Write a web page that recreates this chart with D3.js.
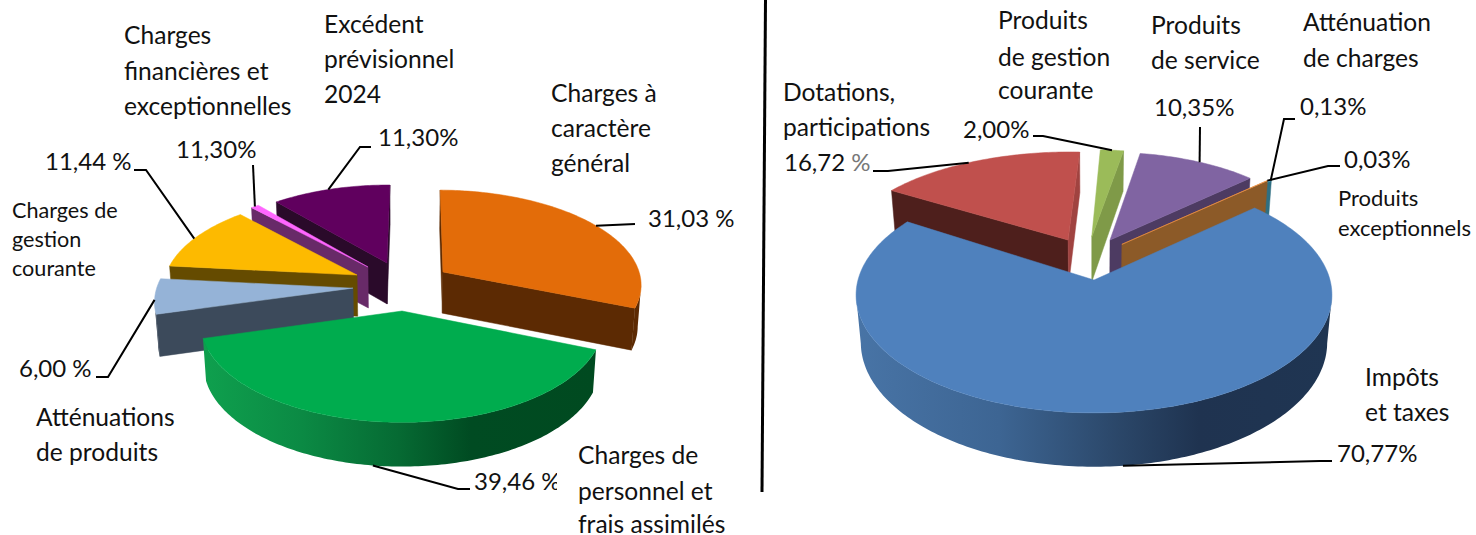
<!DOCTYPE html>
<html><head><meta charset="utf-8">
<script src="https://cdn.jsdelivr.net/npm/d3@7/dist/d3.min.js"></script>
<style>html,body{margin:0;padding:0;background:#fff;overflow:hidden}svg{display:block}text{font-family:Lato,"Open Sans",sans-serif;fill:#111}</style>
</head><body><svg id="c" width="1476" height="535"></svg>
<script>
// ---- data ----
const chargesCategories = ["Charges à caractère général","Charges de personnel et frais assimilés","Atténuations de produits","Charges de gestion courante","Charges financières et exceptionnelles","Excédent prévisionnel 2024"];
const chargesValues = [31.03,39.46,6.00,11.44,0.77,11.30];
const chargesLabels = ["31,03 %","39,46 %","6,00 %","11,44 %","11,30%","11,30%"];
const produitsCategories = ["Impôts et taxes","Dotations, participations","Produits de gestion courante","Produits de service","Atténuation de charges","Produits exceptionnels"];
const produitsValues = [70.77,16.72,2.00,10.35,0.13,0.03];
const produitsLabels = ["70,77%","16,72 %","2,00%","10,35%","0,13%","0,03%"];

// ---- layout (projection, explosion, styling) ----
const pieLeft = {cx:402,cy:311,R:200,Q:98,p:.12,q:.015,D:42,dp:.05,start:0.5,
  slices:[
   {ex:.215,ey:.418,r:1.03,top:"#e36c09",wall:"#5c2a03",side:"#5c2a03",lead:.51},
   {ex:0,ey:0,r:1,top:"#00ac4e",wall:"url(#gGreen)",side:"#004a20",lead:.53,leadZ:1},
   {ex:-.252,ey:.24,r:1.01,top:"#95b3d7",wall:"#3c4a5b",side:"#3c4a5b",lead:.4},
   {ex:-.235,ey:.384,r:1,top:"#fdba00",wall:"#654b00",side:"#654b00",lead:.47},
   {ex:-.18,ey:.475,r:1,top:"#ff66ff",wall:"#682a68",side:"#682a68",lead:.5},
   {ex:-.08,ey:.52,r:1,top:"#60005e",wall:"#2a0a2a",side:"#2a0a2a",lead:.48}],
  order:[5,4,0,3,2,1]};
const pieRight = {cx:1094,cy:280,R:236,Q:116,p:.127,q:.02,D:47,dp:.127,start:47.6,
  slices:[
   {ex:0,ey:0,r:1,top:"#4f81bd",wall:"url(#gBlue)",side:"#1f3350",lead:.495,leadZ:1},
   {ex:-.115,ey:.36,r:.924,rx:.99,top:"#c0504d",wall:"#4e1f1c",side:"#4e1f1c",sideEnd:"#a04340",lead:.46},
   {ex:-.01,ey:.39,r:.92,top:"#9bbb59",wall:"#7f9a48",side:"#7f9a48",lead:.5},
   {ex:.071,ey:.36,r:.92,top:"#8064a2",wall:"#4d3b62",side:"#4d3b62",lead:.51},
   {ex:.143,ey:.32,r:.95,top:"#4bacc6",wall:"#2f6f82",side:"#2f6f82",lead:.5},
   {ex:.123,ey:.32,r:.95,top:"#f79646",wall:"#8c5a28",side:"#8c5a28",lead:.5}],
  order:[1,2,3,4,5,0]};

// [lines, x, first baselines, size]
const textsLeft = [
 [["Charges","financières et","exceptionnelles"],124,[44,80,115],24.6],
 [["Excédent","prévisionnel","2024"],324,[33,68,103],24.6],
 [["Charges à","caractère","général"],551,[102,137,172],24.6],
 [["Charges de","gestion","courante"],12,[218,247,276],21.6],
 [["Atténuations","de produits"],36,[426,461],24.6],
 [["Charges de","personnel et","frais assimilés"],578,[464,500,533],24.6]];
const textsRight = [
 [["Produits","de gestion","courante"],998,[29,66,99],24.6],
 [["Produits","de service"],1151,[34,69],24.6],
 [["Atténuation","de charges"],1303,[31,67],24.6],
 [["Produits","exceptionnels"],1338,[206,236],22],
 [["Dotations,","participations"],783,[101,136],24.6],
 [["Impôts","et taxes"],1365,[386,421],24.6]];
const pctLeftPos = [[648,227],[474,490],[19,377],[45,170],[176,158],[378,146]];
const pctRightPos = [[1337,462],[784,171],[963,138],[1154,116],[1300,115],[1344,168]];
const leadLeft = [[[635,224]],[[458,489],[470,489]],[[108,377],[96,377]],[[146,170],[134,170]],[[253,165]],[[360,147],[371,147]]];
const leadRight = [[[1320,461],[1332,461]],[[888,171],[873,171]],[[1043,136],[1033,136]],[[1200,127]],[[1284,119],[1295,119]],[[1328,166],[1340,166]]];

// ---- drawing ----
const svg = d3.select("#c");
const defs = svg.append("defs");
function grad(id,x1,x2,stops){
  const g=defs.append("linearGradient").attr("id",id).attr("gradientUnits","userSpaceOnUse").attr("x1",x1).attr("x2",x2).attr("y1",0).attr("y2",0);
  stops.forEach(s=>g.append("stop").attr("offset",s[0]).attr("stop-color",s[1]));
}
grad("gGreen",203,596,[[0,"#0fa04e"],[.25,"#0b8a44"],[.5,"#066a33"],[.68,"#004b22"],[1,"#004a20"]]);
grad("gBlue",856,1332,[[0,"#4874a6"],[.3,"#3d6593"],[.55,"#2b4769"],[.72,"#1f3350"],[1,"#1f3552"]]);
defs.append("clipPath").attr("id","clip3946").append("rect").attr("x",460).attr("y",460).attr("width",97).attr("height",50);

const line = d3.line();
const rad = d=>d*Math.PI/180;

function project(P,X,Y,Z){
  const w=1+P.p*Y;
  return [P.cx+P.R*X/(w+P.q*Z), P.cy-P.Q*Y/w+P.D*Z/(1+P.dp*Y)];
}
function drawPie(P,values){
  const arcs=d3.pie().sort(null).value(d=>d).startAngle(rad(P.start)).endAngle(rad(P.start)+2*Math.PI)(values);
  const rim=(s,t,Z)=>project(P,s.ex+(s.rx||s.r)*Math.sin(t),s.ey+s.r*Math.cos(t),Z);
  const apex=(s,Z)=>project(P,s.ex,s.ey,Z);
  const g=svg.append("g");
  P.order.forEach(i=>{
    const s=P.slices[i],a=arcs[i];
    const n=Math.max(2,Math.ceil((a.endAngle-a.startAngle)/rad(1)));
    const ts=d3.range(n+1).map(k=>a.startAngle+(a.endAngle-a.startAngle)*k/n);
    // radial walls, kept only when they face the viewer
    [[a.startAngle,-1,s.side],[a.endAngle,1,s.sideEnd||s.side]].forEach(([t,sign,col])=>{
      const p0=apex(s,0),p1=rim(s,t,0),p2=rim(s,t,1),p3=apex(s,1);
      if(((p1[0]-p0[0])*(p3[1]-p0[1]))*sign>0)
        g.append("path").attr("d",line([p0,p1,p2,p3])+"Z").attr("fill",col).attr("stroke",col).attr("stroke-width",.5);
    });
    // outer wall: the part of the rim running right-to-left on screen
    const vis=ts.filter(t=>rim(s,t+.002,0)[0]<rim(s,t,0)[0]);
    if(vis.length>1){
      const pts=vis.map(t=>rim(s,t,0)).concat(vis.slice().reverse().map(t=>rim(s,t,1)));
      g.append("path").attr("d",line(pts)+"Z").attr("fill",s.wall);
    }
    // top face
    g.append("path").attr("d",line([apex(s,0),...ts.map(t=>rim(s,t,0))])+"Z").attr("fill",s.top).attr("stroke",s.top).attr("stroke-width",.5);
  });
  return (i)=>{const s=P.slices[i],a=arcs[i];return rim(s,a.startAngle+(a.endAngle-a.startAngle)*s.lead,s.leadZ||0);};
}
function drawLeaders(anchor,leads){
  leads.forEach((pts,i)=>svg.append("path").attr("d",line([anchor(i),...pts])).attr("fill","none").attr("stroke","#000").attr("stroke-width",2));
}
function drawTexts(list){
  list.forEach(([lines,x,ys,size])=>lines.forEach((l,k)=>svg.append("text").attr("x",x).attr("y",ys[k]).attr("font-size",size).text(l)));
}
function drawPct(labels,pos){
  labels.forEach((l,i)=>{
    const t=svg.append("text").attr("x",pos[i][0]).attr("y",pos[i][1]).attr("font-size",24);
    if(l==="16,72 %"){
      t.append("tspan").text("16,72 ");
      t.append("tspan").style("fill","#777").text("%");
    } else t.text(l);
    if(l==="39,46 %") t.attr("clip-path","url(#clip3946)");
  });
}
const aL=drawPie(pieLeft,chargesValues);
const aR=drawPie(pieRight,produitsValues);
drawLeaders(aL,leadLeft); drawLeaders(aR,leadRight);
drawTexts(textsLeft); drawTexts(textsRight);
drawPct(chargesLabels,pctLeftPos); drawPct(produitsLabels,pctRightPos);
// vertical separator
svg.append("path").attr("d",line([[765.5,0],[762,492]])).attr("stroke","#000").attr("stroke-width",3).attr("fill","none");
</script></body></html>
